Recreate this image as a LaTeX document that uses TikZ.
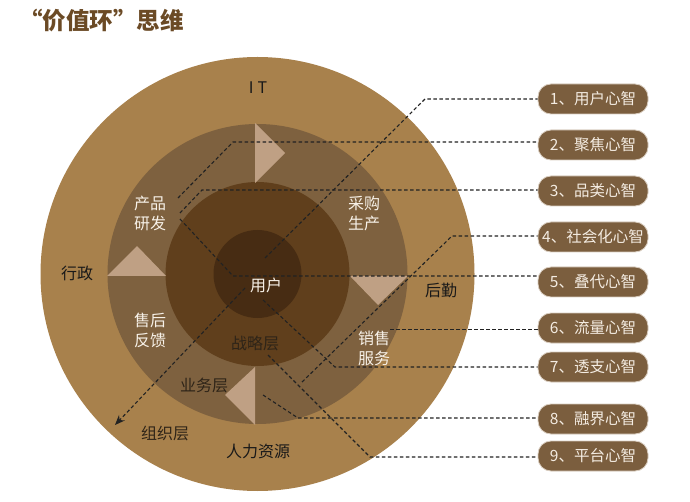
\documentclass[tikz,border=0pt]{standalone}
\usepackage{fontspec}
\setmainfont{Noto Sans CJK SC}
\usetikzlibrary{arrows.meta}
\definecolor{cOuter}{HTML}{A8814C}
\definecolor{cRing}{HTML}{7E613F}
\definecolor{cStrat}{HTML}{603F1C}
\definecolor{cUser}{HTML}{472C13}
\definecolor{cTri}{HTML}{BFA084}
\definecolor{cBox}{HTML}{7B5E3E}
\definecolor{cBoxLine}{HTML}{D8CCBE}
\definecolor{cBoxText}{HTML}{F4ECE2}
\definecolor{cTitle}{HTML}{6B4A25}
\definecolor{cDarkLbl}{HTML}{2E2418}
\definecolor{cWhiteLbl}{HTML}{F7F1E8}
\definecolor{cDash}{HTML}{222222}
\tikzset{
  lbl/.style={inner sep=0pt, align=center, font=\fontsize{16}{20}\selectfont},
  blacklbl/.style={lbl, text=black!90},
  darklbl/.style={lbl, text=cDarkLbl},
  whitelbl/.style={lbl, text=cWhiteLbl},
  mindbox/.style={draw=cBoxLine, line width=0.8pt, fill=cBox, rounded corners=13pt,
    minimum width=110pt, minimum height=30pt, inner sep=0pt, text=cBoxText,
    font=\fontsize{15.5}{18}\selectfont},
  dl/.style={draw=cDash, line width=1.1pt, dash pattern=on 3.5pt off 2.5pt},
  tri/.style={fill=cTri}
}
\begin{document}
\begin{tikzpicture}[x=1pt,y=-1pt]
\useasboundingbox (0,0) rectangle (690,502);
\fill[white] (0,0) rectangle (690,502);
% title
\node[anchor=west, inner sep=0pt, text=cTitle, font=\fontsize{23.5}{28}\selectfont\bfseries] (title) at (19,21) {“价值环”思维};
% rings
\fill[cOuter] (257.5,274) circle[radius=217pt];
\fill[cRing] (257.5,274) circle[radius=150pt];
\fill[cStrat] (257.5,274) circle[radius=92pt];
\fill[cUser] (257.5,274) circle[radius=44pt];
% rotation triangles
\fill[tri] (255,123) -- (255,183) -- (285,153) -- cycle;
\fill[tri] (107,276) -- (166,276) -- (137,246) -- cycle;
\fill[tri] (350,276) -- (408,276) -- (378,305) -- cycle;
\fill[tri] (255,367) -- (255,425) -- (225,395) -- cycle;
% labels
\node[blacklbl] (it) at (258,88) {I\hspace{4pt}T};
\node[blacklbl] (xz) at (77,273) {行政};
\node[blacklbl] (hq) at (441,290) {后勤};
\node[blacklbl] (rl) at (258,451) {人力资源};
\node[darklbl] (zz) at (165,433) {组织层};
\node[darklbl] (yw) at (204,385) {业务层};
\node[darklbl] (zl) at (255,343) {战略层};
\node[whitelbl] (yh) at (266,285) {用户};
\node[whitelbl] (cp) at (150,213) {产品\\研发};
\node[whitelbl] (cg) at (364,213) {采购\\生产};
\node[whitelbl] (sh) at (150,330) {售后\\反馈};
\node[whitelbl] (xs) at (374,348) {销售\\服务};
% boxes
\node[mindbox] (b1) at (593,99) {1、用户心智};
\node[mindbox] (b2) at (593,145) {2、聚焦心智};
\node[mindbox] (b3) at (593,191) {3、品类心智};
\node[mindbox] (b4) at (593,237) {4、社会化心智};
\node[mindbox] (b5) at (593,282) {5、叠代心智};
\node[mindbox] (b6) at (593,328) {6、流量心智};
\node[mindbox] (b7) at (593,367) {7、透支心智};
\node[mindbox] (b8) at (593,419) {8、融界心智};
\node[mindbox] (b9) at (593,456) {9、平台心智};
% connector points
\coordinate (s1) at (265,258); \coordinate (k1) at (425,99);
\coordinate (s2) at (178,198); \coordinate (k2) at (233,142);
\coordinate (s3) at (180,213); \coordinate (k3) at (202,190);
\coordinate (s4) at (302,382); \coordinate (k4) at (452,236);
\coordinate (s5) at (180,219); \coordinate (k5) at (233,276);
\coordinate (s6) at (390,329.5);
\coordinate (s7) at (263,300); \coordinate (k7) at (335,367);
\coordinate (s8) at (263,395); \coordinate (k8) at (298,418);
\coordinate (s9) at (268,355); \coordinate (k9) at (370,457);
\coordinate (a0) at (245,288); \coordinate (a1) at (115,425);
% dashed connectors
\draw[dl] (s1) -- (k1) -- (k1 -| b1.west);
\draw[dl] (s2) -- (k2) -- (k2 -| b2.west);
\draw[dl] (s3) -- (k3) -- (k3 -| b3.west);
\draw[dl] (s4) -- (k4) -- (k4 -| b4.west);
\draw[dl] (s5) -- (k5) -- (k5 -| b5.west);
\draw[dl] (s6) -- (s6 -| b6.west);
\draw[dl] (s7) -- (k7) -- (k7 -| b7.west);
\draw[dl] (s8) -- (k8) -- (k8 -| b8.west);
\draw[dl] (s9) -- (k9) -- (k9 -| b9.west);
\draw[dl, -{Stealth[length=10pt,width=8pt]}] (a0) -- (a1);
\end{tikzpicture}
\end{document}
